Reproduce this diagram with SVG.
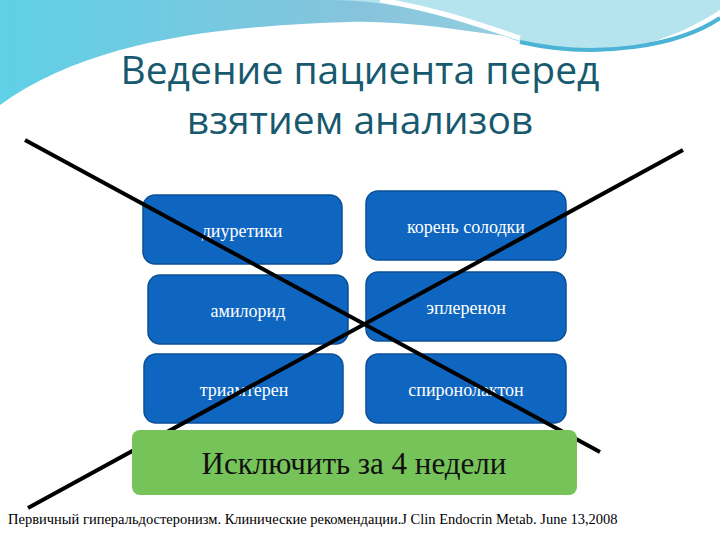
<svg xmlns="http://www.w3.org/2000/svg" width="720" height="540" viewBox="0 0 720 540">
<defs>
<linearGradient id="w1" x1="0" y1="0" x2="1" y2="0"><stop offset="0" stop-color="#5fd0e6"/><stop offset="0.5" stop-color="#86c4dc"/><stop offset="1" stop-color="#a8dde8"/></linearGradient>
<style>
.b{fill:#0f66c0;stroke:#0a4f96;stroke-width:1.5}
.t{font-family:"Liberation Serif",serif;font-size:18px;fill:#fff;text-anchor:middle}
.x{stroke:#000;stroke-width:4}
</style>
</defs>
<rect width="720" height="540" fill="#fff"/>
<path d="M0,0H720V0C690,30 620,45 560,42C500,38 420,20 350,22C220,26 90,40 0,105Z" fill="url(#w1)"/>
<path d="M330,0C400,0 460,20 520,42C580,60 650,55 720,10V0Z" fill="#b6e4ee"/>
<path d="M380,0C440,10 480,25 520,38" fill="none" stroke="#fff" stroke-width="5"/>
<path d="M520,42C600,60 680,45 720,18" fill="none" stroke="#4ab3d6" stroke-width="4"/>
<g font-family="'Open Sans','DejaVu Sans',sans-serif" font-size="39" fill="#17596e" text-anchor="middle">
<text x="360" y="84">Ведение пациента перед</text>
<text x="360" y="134">взятием анализов</text>
</g>
<g id="n1"><rect class="b" x="143" y="195" width="199" height="69" rx="12"/><text class="t" x="242" y="237">диуретики</text></g>
<g id="n2"><rect class="b" x="366" y="191" width="200" height="69" rx="12"/><text class="t" x="466" y="233">корень солодки</text></g>
<g id="n3"><rect class="b" x="148" y="275" width="200" height="69" rx="12"/><text class="t" x="248" y="317">амилорид</text></g>
<g id="n4"><rect class="b" x="366" y="272" width="200" height="69" rx="12"/><text class="t" x="466" y="314">эплеренон</text></g>
<g id="n5"><rect class="b" x="144" y="354" width="199" height="69" rx="12"/><text class="t" x="244" y="396">триамтерен</text></g>
<g id="n6"><rect class="b" x="366" y="354" width="200" height="69" rx="12"/><text class="t" x="466" y="396">спиронолактон</text></g>
<g id="connectors">
<line class="x" x1="25" y1="140" x2="600" y2="452"/>
<line class="x" x1="683" y1="150" x2="28" y2="508"/>
</g>
<g id="n7"><rect x="132" y="430" width="445" height="65" rx="8" fill="#76c35a"/><text x="354" y="474" font-family="'Liberation Serif',serif" font-size="31" fill="#111" text-anchor="middle">Исключить за 4 недели</text></g>
<text x="8" y="524" font-family="'Liberation Serif',serif" font-size="14.5" fill="#000">Первичный гиперальдостеронизм. Клинические рекомендации.J Clin Endocrin Metab. June 13,2008</text>
</svg>
